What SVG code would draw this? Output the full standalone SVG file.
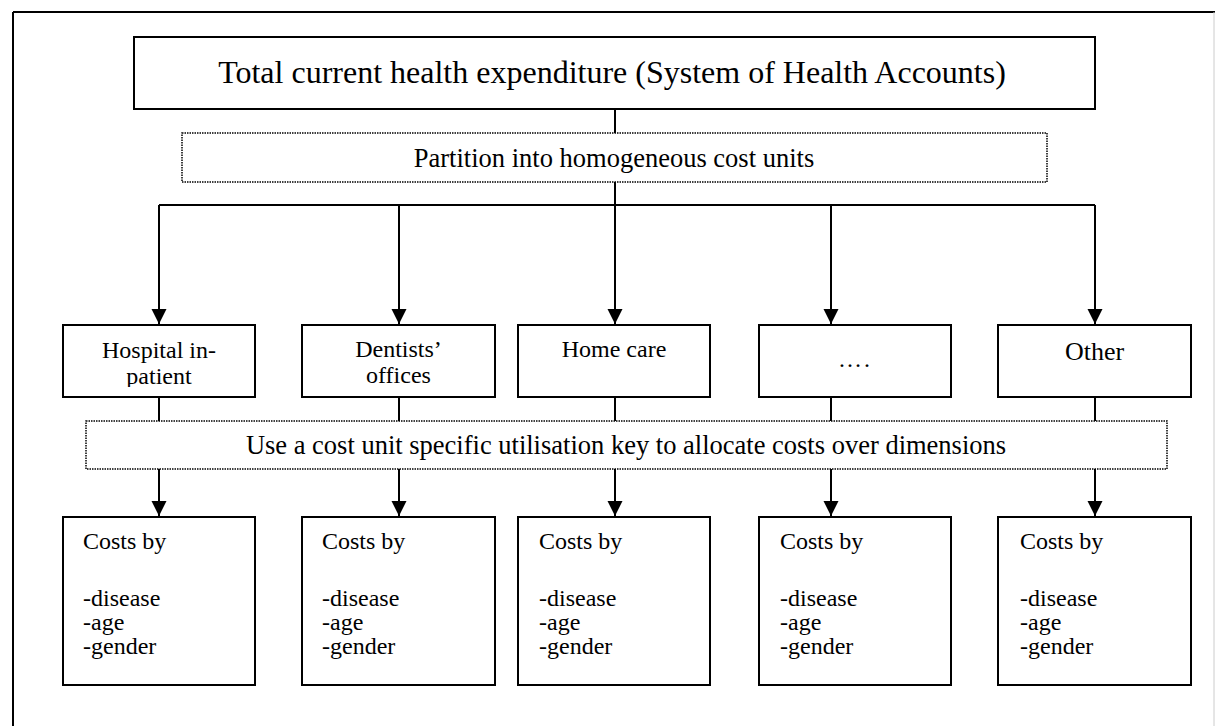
<svg xmlns="http://www.w3.org/2000/svg" width="1215" height="726" viewBox="0 0 1215 726">
<style>
.box{fill:#fff;stroke:#000;stroke-width:2}
.dot{fill:#fff;stroke:#000;stroke-width:1.5;stroke-dasharray:1.5 1}
.ln{fill:none;stroke:#000;stroke-width:2}
.t{font-family:"Liberation Serif","Times New Roman",serif;fill:#000}
.c{text-anchor:middle}
</style>
<defs>
<marker id="ah" markerWidth="16" markerHeight="16" refX="15" refY="7.5" orient="auto" markerUnits="userSpaceOnUse">
<path d="M0,0 L15,7.5 L0,15 Z" fill="#000"/>
</marker>
<clipPath id="clipH"><rect x="64" y="326" width="190" height="61"/></clipPath>
</defs>
<rect width="1215" height="726" fill="#fff"/>
<g id="frame">
<line x1="13" y1="12" x2="1215" y2="12" stroke="#000" stroke-width="2"/>
<line x1="13" y1="12" x2="13" y2="726" stroke="#000" stroke-width="2"/>
<line x1="1214" y1="12" x2="1214" y2="726" stroke="#ccc" stroke-width="1"/>
</g>
<g id="connectors">
<line class="ln" x1="615" y1="109" x2="615" y2="133"/>
<line class="ln" x1="615" y1="182" x2="615" y2="205"/>
<line class="ln" x1="159" y1="205" x2="1095" y2="205"/>
<line class="ln" x1="159" y1="205" x2="159" y2="324" marker-end="url(#ah)"/>
<line class="ln" x1="399" y1="205" x2="399" y2="324" marker-end="url(#ah)"/>
<line class="ln" x1="615" y1="205" x2="615" y2="324" marker-end="url(#ah)"/>
<line class="ln" x1="831" y1="205" x2="831" y2="324" marker-end="url(#ah)"/>
<line class="ln" x1="1095" y1="205" x2="1095" y2="324" marker-end="url(#ah)"/>
<line class="ln" x1="159" y1="397" x2="159" y2="421"/>
<line class="ln" x1="399" y1="397" x2="399" y2="421"/>
<line class="ln" x1="615" y1="397" x2="615" y2="421"/>
<line class="ln" x1="831" y1="397" x2="831" y2="421"/>
<line class="ln" x1="1095" y1="397" x2="1095" y2="421"/>
<line class="ln" x1="159" y1="469" x2="159" y2="516" marker-end="url(#ah)"/>
<line class="ln" x1="399" y1="469" x2="399" y2="516" marker-end="url(#ah)"/>
<line class="ln" x1="615" y1="469" x2="615" y2="516" marker-end="url(#ah)"/>
<line class="ln" x1="831" y1="469" x2="831" y2="516" marker-end="url(#ah)"/>
<line class="ln" x1="1095" y1="469" x2="1095" y2="516" marker-end="url(#ah)"/>
</g>
<g id="total">
<rect class="box" x="134" y="37" width="961" height="72"/>
<text class="t c" x="612" y="83" font-size="32">Total current health expenditure (System of Health Accounts)</text>
</g>
<g id="partition">
<rect class="dot" x="182" y="133" width="865" height="49"/>
<text class="t c" x="614" y="167" font-size="26.5">Partition into homogeneous cost units</text>
</g>
<g id="hospital">
<rect class="box" x="63" y="325" width="192" height="72"/>
<g clip-path="url(#clipH)">
<text class="t c" x="159" y="358" font-size="24">Hospital in-</text>
<text class="t c" x="159" y="384" font-size="24">patient</text>
</g>
</g>
<g id="dentists">
<rect class="box" x="302" y="325" width="193" height="72"/>
<text class="t c" x="398.5" y="357" font-size="24">Dentists’</text>
<text class="t c" x="398.5" y="383" font-size="24">offices</text>
</g>
<g id="homecare">
<rect class="box" x="518" y="325" width="192" height="72"/>
<text class="t c" x="614" y="357" font-size="24">Home care</text>
</g>
<g id="dots">
<rect class="box" x="759" y="325" width="192" height="72"/>
<text class="t c" x="855" y="367" font-size="24" letter-spacing="2">….</text>
</g>
<g id="other">
<rect class="box" x="998" y="325" width="193" height="72"/>
<text class="t c" x="1094.5" y="360" font-size="26">Other</text>
</g>
<g id="utilisation">
<rect class="dot" x="86" y="421" width="1081" height="48"/>
<text class="t c" x="626" y="454" font-size="26.5">Use a cost unit specific utilisation key to allocate costs over dimensions</text>
</g>
<g id="costs1">
<rect class="box" x="63" y="517" width="192" height="168"/>
<text class="t" x="83" y="549" font-size="24">Costs by</text>
<text class="t" x="83" y="606" font-size="24">-disease</text>
<text class="t" x="83" y="630" font-size="24">-age</text>
<text class="t" x="83" y="654" font-size="24">-gender</text>
</g>
<g id="costs2">
<rect class="box" x="302" y="517" width="193" height="168"/>
<text class="t" x="322" y="549" font-size="24">Costs by</text>
<text class="t" x="322" y="606" font-size="24">-disease</text>
<text class="t" x="322" y="630" font-size="24">-age</text>
<text class="t" x="322" y="654" font-size="24">-gender</text>
</g>
<g id="costs3">
<rect class="box" x="518" y="517" width="192" height="168"/>
<text class="t" x="539" y="549" font-size="24">Costs by</text>
<text class="t" x="539" y="606" font-size="24">-disease</text>
<text class="t" x="539" y="630" font-size="24">-age</text>
<text class="t" x="539" y="654" font-size="24">-gender</text>
</g>
<g id="costs4">
<rect class="box" x="759" y="517" width="192" height="168"/>
<text class="t" x="780" y="549" font-size="24">Costs by</text>
<text class="t" x="780" y="606" font-size="24">-disease</text>
<text class="t" x="780" y="630" font-size="24">-age</text>
<text class="t" x="780" y="654" font-size="24">-gender</text>
</g>
<g id="costs5">
<rect class="box" x="998" y="517" width="193" height="168"/>
<text class="t" x="1020" y="549" font-size="24">Costs by</text>
<text class="t" x="1020" y="606" font-size="24">-disease</text>
<text class="t" x="1020" y="630" font-size="24">-age</text>
<text class="t" x="1020" y="654" font-size="24">-gender</text>
</g>
</svg>
